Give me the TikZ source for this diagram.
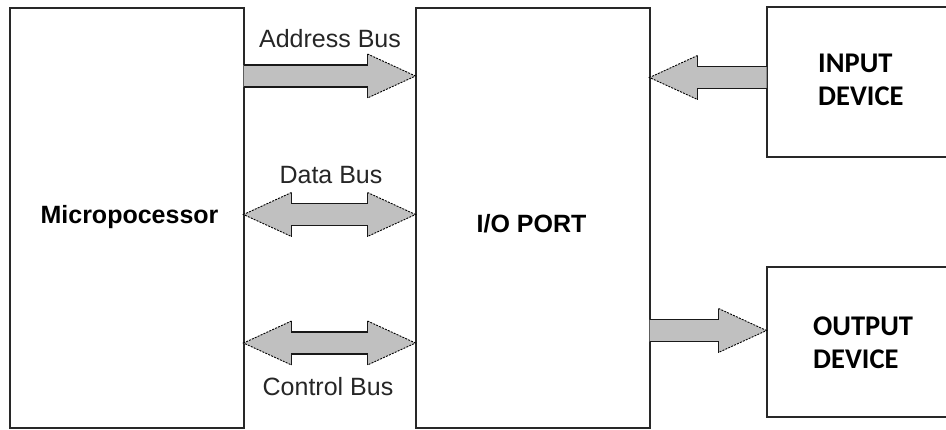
\documentclass[tikz,border=0pt]{standalone}
\usepackage{fontspec}
\setmainfont{Liberation Sans}
\newfontfamily\calfont{Carlito}
\usetikzlibrary{calc}
\definecolor{busgray}{RGB}{192,192,192}
\definecolor{edgecol}{RGB}{40,40,40}
\tikzset{
  box/.style={draw=edgecol, line width=2pt, rectangle, inner sep=0pt, outer sep=0pt, anchor=north west},
  buslabel/.style={font=\fontsize{25}{30}\selectfont, text=black!85, inner sep=0pt, anchor=base},
  boxlabel/.style={font=\fontsize{25}{30}\selectfont\bfseries, inner sep=0pt, anchor=base},
  devlabel/.style={font=\calfont\fontsize{28.5}{32.5}\selectfont\bfseries, inner sep=0pt, anchor=base west, align=left},
  shaftline/.style={draw=black!90, line width=1.3pt},
  headline/.style={draw=black, line width=0.9pt, dash pattern=on 2pt off 1.2pt},
}
% single-headed bus arrow: tail #1, tip #2
\newcommand{\busone}[2]{%
  \coordinate (hb) at ($(#2)!48pt!(#1)$);
  \fill[busgray] ($(#1)+(0,-11)$) -- ($(hb)+(0,-11)$) -- ($(hb)+(0,-22)$) -- (#2)
     -- ($(hb)+(0,22)$) -- ($(hb)+(0,11)$) -- ($(#1)+(0,11)$) -- cycle;
  \draw[shaftline] ($(#1)+(0,-11)$) -- ($(hb)+(0,-11)$) -- ($(hb)+(0,-22)$);
  \draw[shaftline] ($(#1)+(0,11)$) -- ($(hb)+(0,11)$) -- ($(hb)+(0,22)$);
  \draw[headline] ($(hb)+(0,-22)$) -- (#2) -- ($(hb)+(0,22)$);
}
% double-headed bus arrow: tips #1 and #2
\newcommand{\bustwo}[2]{%
  \coordinate (ha) at ($(#1)!48pt!(#2)$);
  \coordinate (hb) at ($(#2)!48pt!(#1)$);
  \fill[busgray] (#1) -- ($(ha)+(0,-22)$) -- ($(ha)+(0,-11)$) -- ($(hb)+(0,-11)$) -- ($(hb)+(0,-22)$) -- (#2)
     -- ($(hb)+(0,22)$) -- ($(hb)+(0,11)$) -- ($(ha)+(0,11)$) -- ($(ha)+(0,22)$) -- cycle;
  \draw[shaftline] ($(ha)+(0,-22)$) -- ($(ha)+(0,-11)$) -- ($(hb)+(0,-11)$) -- ($(hb)+(0,-22)$);
  \draw[shaftline] ($(ha)+(0,22)$) -- ($(ha)+(0,11)$) -- ($(hb)+(0,11)$) -- ($(hb)+(0,22)$);
  \draw[headline] ($(ha)+(0,-22)$) -- (#1) -- ($(ha)+(0,22)$);
  \draw[headline] ($(hb)+(0,-22)$) -- (#2) -- ($(hb)+(0,22)$);
}
\begin{document}
\begin{tikzpicture}[x=1pt,y=-1pt]
\useasboundingbox (0,0) rectangle (946,429);
\fill[white] (0,0) rectangle (946,429);
\clip (0,0) rectangle (946,429);

% boxes
\node[box, minimum width=234pt, minimum height=420pt] (mp) at (9.5,7.5) {};
\node[box, minimum width=234pt, minimum height=420pt] (io) at (415.5,7.5) {};
\node[box, minimum width=214pt, minimum height=150pt] (indev) at (766.5,6.5) {};
\node[box, minimum width=214pt, minimum height=150pt] (outdev) at (766.5,267) {};

% box labels
\node[boxlabel] (mplabel) at (129.5,223) {Micropocessor};
\node[boxlabel] (iolabel) at (531.5,232) {I/O PORT};
\node[devlabel] (inlabel) at (818,105) {INPUT\\DEVICE};
\node[devlabel] (outlabel) at (813,368) {OUTPUT\\DEVICE};

% connector end points
\coordinate (ab1) at (mp.east |- 0,76);
\coordinate (ab2) at (io.west |- 0,76);
\coordinate (db1) at (mp.east |- 0,214.5);
\coordinate (db2) at (io.west |- 0,214.5);
\coordinate (cb1) at (mp.east |- 0,343);
\coordinate (cb2) at (io.west |- 0,343);
\coordinate (in1) at (indev.west |- 0,77.5);
\coordinate (in2) at (io.east |- 0,77.5);
\coordinate (out1) at (io.east |- 0,330.5);
\coordinate (out2) at (outdev.west |- 0,330.5);

% bus arrows
\busone{ab1}{ab2}
\bustwo{db1}{db2}
\bustwo{cb1}{cb2}
\busone{in1}{in2}
\busone{out1}{out2}

% bus labels
\node[buslabel] (ablabel) at (330,47) {Address Bus};
\node[buslabel] (dblabel) at (331,183) {Data Bus};
\node[buslabel] (cblabel) at (328,395) {Control Bus};
\end{tikzpicture}
\end{document}
